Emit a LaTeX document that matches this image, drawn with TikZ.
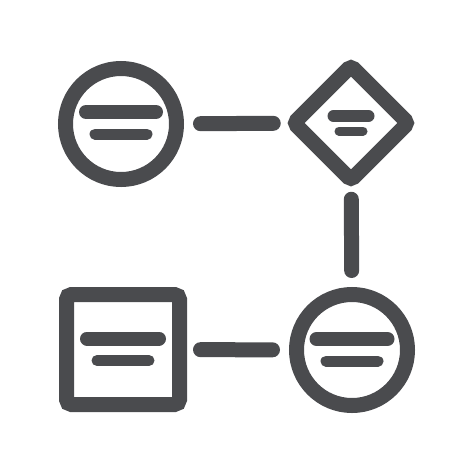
\documentclass[tikz,border=0pt]{standalone}
\usepackage{tikz}
\usetikzlibrary{shapes.geometric}

\definecolor{icongray}{RGB}{74,75,78}

\begin{document}
\begin{tikzpicture}[x=1pt,y=-1pt,
		outline/.style={draw=icongray,line width=15pt,inner sep=0pt,outer sep=0pt},
		wire/.style={draw=icongray,line width=15pt,line cap=round},
		bar/.style={draw=icongray,line width=14pt,line cap=round},
		shortbar/.style={draw=icongray,line width=11pt,line cap=round}]
		\useasboundingbox (0,0) rectangle (474,474);
		
		\node[outline,circle,minimum size=111pt] (start) at (121,124) {};
		\node[outline,diamond,minimum size=114pt,rounded corners=4pt] (test) at (351,123) {};
		\node[outline,circle,minimum size=111pt] (merge) at (352,350) {};
		\node[outline,rectangle,minimum width=113pt,minimum height=110pt,rounded corners=5pt] (task) at (123,349.5) {};
		
		\draw[wire,shorten <=24pt,shorten >=21pt] (start)--(test);
		\draw[wire,shorten <=19.5pt,shorten >=24pt] (test)--(merge);
		\draw[wire,shorten <=21pt,shorten >=24pt] (task)--(merge);
		
		\draw[bar] ([shift={(-35,-12)}]start.center)--([shift={(35,-12)}]start.center);
		\draw[shortbar] ([shift={(-26,10)}]start.center)--([shift={(26,10)}]start.center);
		\draw[bar,line width=12pt] ([shift={(-17.5,-7)}]test.center)--([shift={(17.5,-7)}]test.center);
		\draw[shortbar,line width=9pt] ([shift={(-12,8)}]test.center)--([shift={(12,8)}]test.center);
		\draw[bar] ([shift={(-35.5,-11)}]merge.center)--([shift={(35.5,-11)}]merge.center);
		\draw[shortbar] ([shift={(-26,11)}]merge.center)--([shift={(26,11)}]merge.center);
		\draw[bar] ([shift={(-36,-11)}]task.center)--([shift={(36,-11)}]task.center);
		\draw[shortbar] ([shift={(-26,11)}]task.center)--([shift={(26,11)}]task.center);
\end{tikzpicture}
\end{document}
